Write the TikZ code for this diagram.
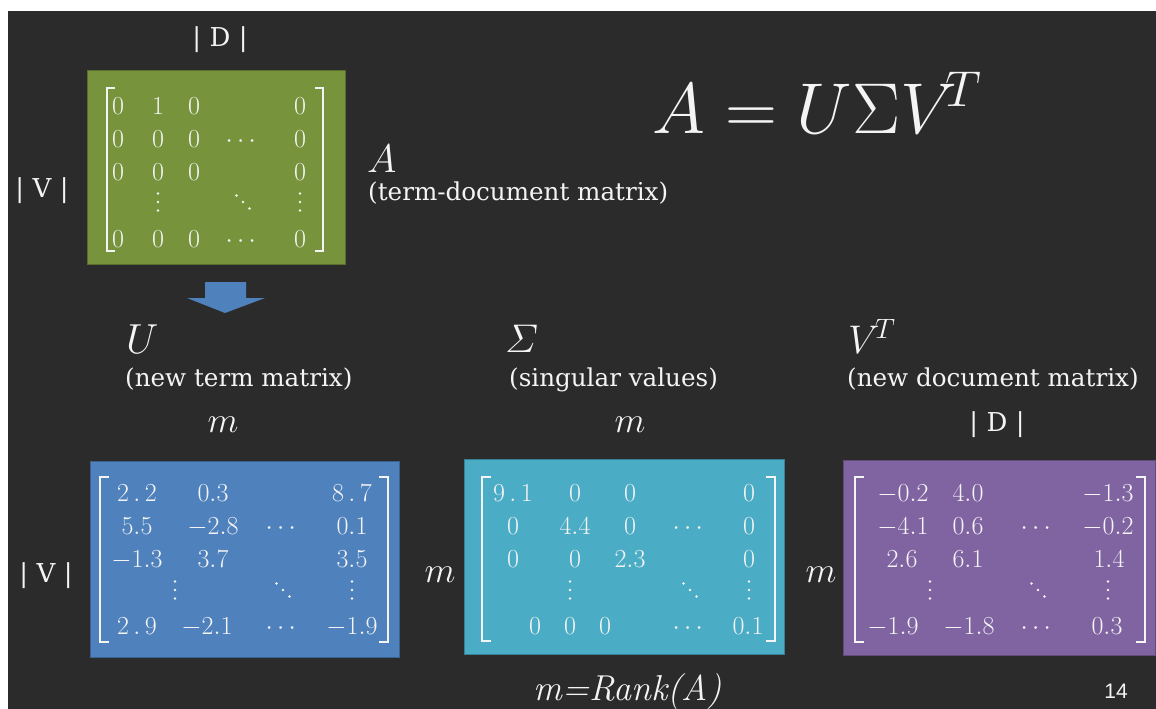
\RequirePackage{fix-cm}
\documentclass[tikz,border=0pt]{standalone}
\usepackage{amsmath}
\usepackage{fontspec}
\newfontfamily\sansf{Liberation Sans}
\newfontfamily\labf{DejaVu Serif}
\definecolor{bg}{HTML}{2B2B2B}
\definecolor{fg}{HTML}{F4F4F4}
\definecolor{gfill}{HTML}{77933C}
\definecolor{bfill}{HTML}{4F81BD}
\definecolor{cfill}{HTML}{4BACC6}
\definecolor{pfill}{HTML}{8064A2}
\newcommand\fs[1]{\fontsize{#1}{#1}\selectfont}
\newcommand\card[1]{|\kern8.5pt #1\kern8.5pt|}
\begin{document}
\begin{tikzpicture}[x=1pt,y=-1pt,
  ent/.style={text=fg,inner sep=0pt,anchor=base,font=\fs{26}},
  lab/.style={text=fg,inner sep=0pt,anchor=base west,font=\fs{28}},
  ttl/.style={lab,font=\labf\fs{24.6}},
  crd/.style={text=fg,inner sep=0pt,anchor=base,font=\labf\fs{26}},
  box/.style={draw=#1!75!black,line width=0.8pt,fill=#1,inner sep=0pt},
  brk/.style={draw=fg,line width=1.6pt,line cap=butt,line join=miter},
  dot/.style={fill=fg}]
\useasboundingbox (0,0) rectangle (1156,709);
\fill[white] (0,0) rectangle (1156,709);
\fill[bg] (8,11) rectangle (1156,709);

% boxes
\node[box=gfill, minimum width=258, minimum height=194] (Abox) at (216,167) {};
\node[box=bfill, minimum width=309, minimum height=196] (Ubox) at (244.5,559) {};
\node[box=cfill, minimum width=320, minimum height=195] (Sbox) at (624,556.5) {};
\node[box=pfill, minimum width=312, minimum height=195] (Vbox) at (999,557.5) {};

% arrow
\fill[bfill] (205,282) -- (246,282) -- (246,298) -- (265,298) -- (225,313) -- (187,298) -- (205,298) -- cycle;

% brackets
\draw[brk] (115,88) -| (107,251) -- (115,251);
\draw[brk] (315,88) -| (323,251) -- (315,251);
\draw[brk] (109,477) -| (100,642) -- (109,642);
\draw[brk] (379,477) -| (388,642) -- (379,642);
\draw[brk] (491,477) -| (482,641) -- (491,641);
\draw[brk] (766,477) -| (775,641) -- (766,641);
\draw[brk] (864,477) -| (855,642) -- (864,642);
\draw[brk] (1136,477) -| (1145,642) -- (1136,642);

% vertical dots
\foreach \x/\y in {158/202, 300/202, 175/590, 352/590, 570/590, 749/590, 930/590, 1108/590}
  \fill[dot] (\x,\y-8.5) circle (1.4) (\x,\y) circle (1.4) (\x,\y+8.5) circle (1.4);
% diagonal dots
\foreach \x/\y in {243/202, 283/590, 690/590, 1038/590}
  \fill[dot] (\x-6.5,\y-6.5) circle (1.4) (\x,\y) circle (1.4) (\x+6.5,\y+6.5) circle (1.4);

% green matrix entries
\foreach \x/\y/\t [count=\i] in {
 118/114/0, 158/114/1, 194/114/0, 300/114/0,
 118/147/0, 158/147/0, 194/147/0, 243/147/\cdots, 300/147/0,
 118/180/0, 158/180/0, 194/180/0, 300/180/0,
 118/247/0, 158/247/0, 194/247/0, 243/247/\cdots, 300/247/0}
 \node[ent] (g\i) at (\x,\y) {$\t$};

% U matrix entries
\foreach \x/\y/\t [count=\i] in {
 137/501/{2\,.\,2}, 213/501/0.3, 352/501/{8\,.\,7},
 137/534/5.5, 213/534/-2.8, 283/534/\cdots, 352/534/0.1,
 137/567/-1.3, 213/567/3.7, 352/567/3.5,
 137/634/{2\,.\,9}, 207/634/-2.1, 283/634/\cdots, 352/634/-1.9}
 \node[ent] (u\i) at (\x,\y) {$\t$};

% Sigma matrix entries
\foreach \x/\y/\t [count=\i] in {
 513/501/{9\,.\,1}, 575/501/0, 630/501/0, 749/501/0,
 513/534/0, 575/534/4.4, 630/534/0, 690/534/\cdots, 749/534/0,
 513/567/0, 575/567/0, 630/567/2.3, 749/567/0,
 535/634/0, 570/634/0, 605/634/0, 690/634/\cdots, 748/634/0.1}
 \node[ent] (s\i) at (\x,\y) {$\t$};

% V^T matrix entries
\foreach \x/\y/\t [count=\i] in {
 903/501/-0.2, 968/501/4.0, 1108/501/-1.3,
 903/534/-4.1, 968/534/0.6, 1038/534/\cdots, 1108/534/-0.2,
 902/567/2.6, 968/567/6.1, 1109/567/1.4,
 893/634/-1.9, 969/634/-1.8, 1038/634/\cdots, 1107/634/0.3}
 \node[ent] (v\i) at (\x,\y) {$\t$};

% labels
\node[crd] (Dtop) at (220,47) {\card{D}};
\node[crd] (Vtop) at (42,197) {\card{V}};
\node[lab, font=\fs{40}] (Alab) at (367,172) {$A$};
\node[ttl] (Atxt) at (368,200) {(term-document matrix)};
\node[lab, font=\fs{72}] (eq) at (652,133) {$A = U\Sigma V^{\mkern-4mu T}$};

\node[lab, font=\fs{42}] (Ulab) at (126,353) {$U$};
\node[ttl] (Utxt) at (125,386) {(new term matrix)};
\node[lab, font=\fs{36}, anchor=base] (Um) at (223,432) {$m$};
\node[lab, font=\fs{40}] (Slab) at (505,352) {$\varSigma$};
\node[ttl] (Stxt) at (509,386) {(singular values)};
\node[lab, font=\fs{36}, anchor=base] (Sm) at (630,432) {$m$};
\node[lab, font=\fs{40}] (Vlab) at (848,353) {$V^{\!T}$};
\node[ttl] (Vtxt) at (847,386) {(new document matrix)};
\node[crd] (Dlow) at (997,431) {\card{D}};

\node[crd] (Vlow) at (46,582) {\card{V}};
\node[lab, font=\fs{36}, anchor=base] (m1) at (440,582) {$m$};
\node[lab, font=\fs{36}, anchor=base] (m2) at (821,582) {$m$};
\node[lab, font=\fs{36}\itshape, anchor=base] (rank) at (628,700) {m=Rank(A)};
\node[lab, font=\sansf\fs{21}, anchor=base] (pg) at (1116,698) {14};
\end{tikzpicture}
\end{document}
